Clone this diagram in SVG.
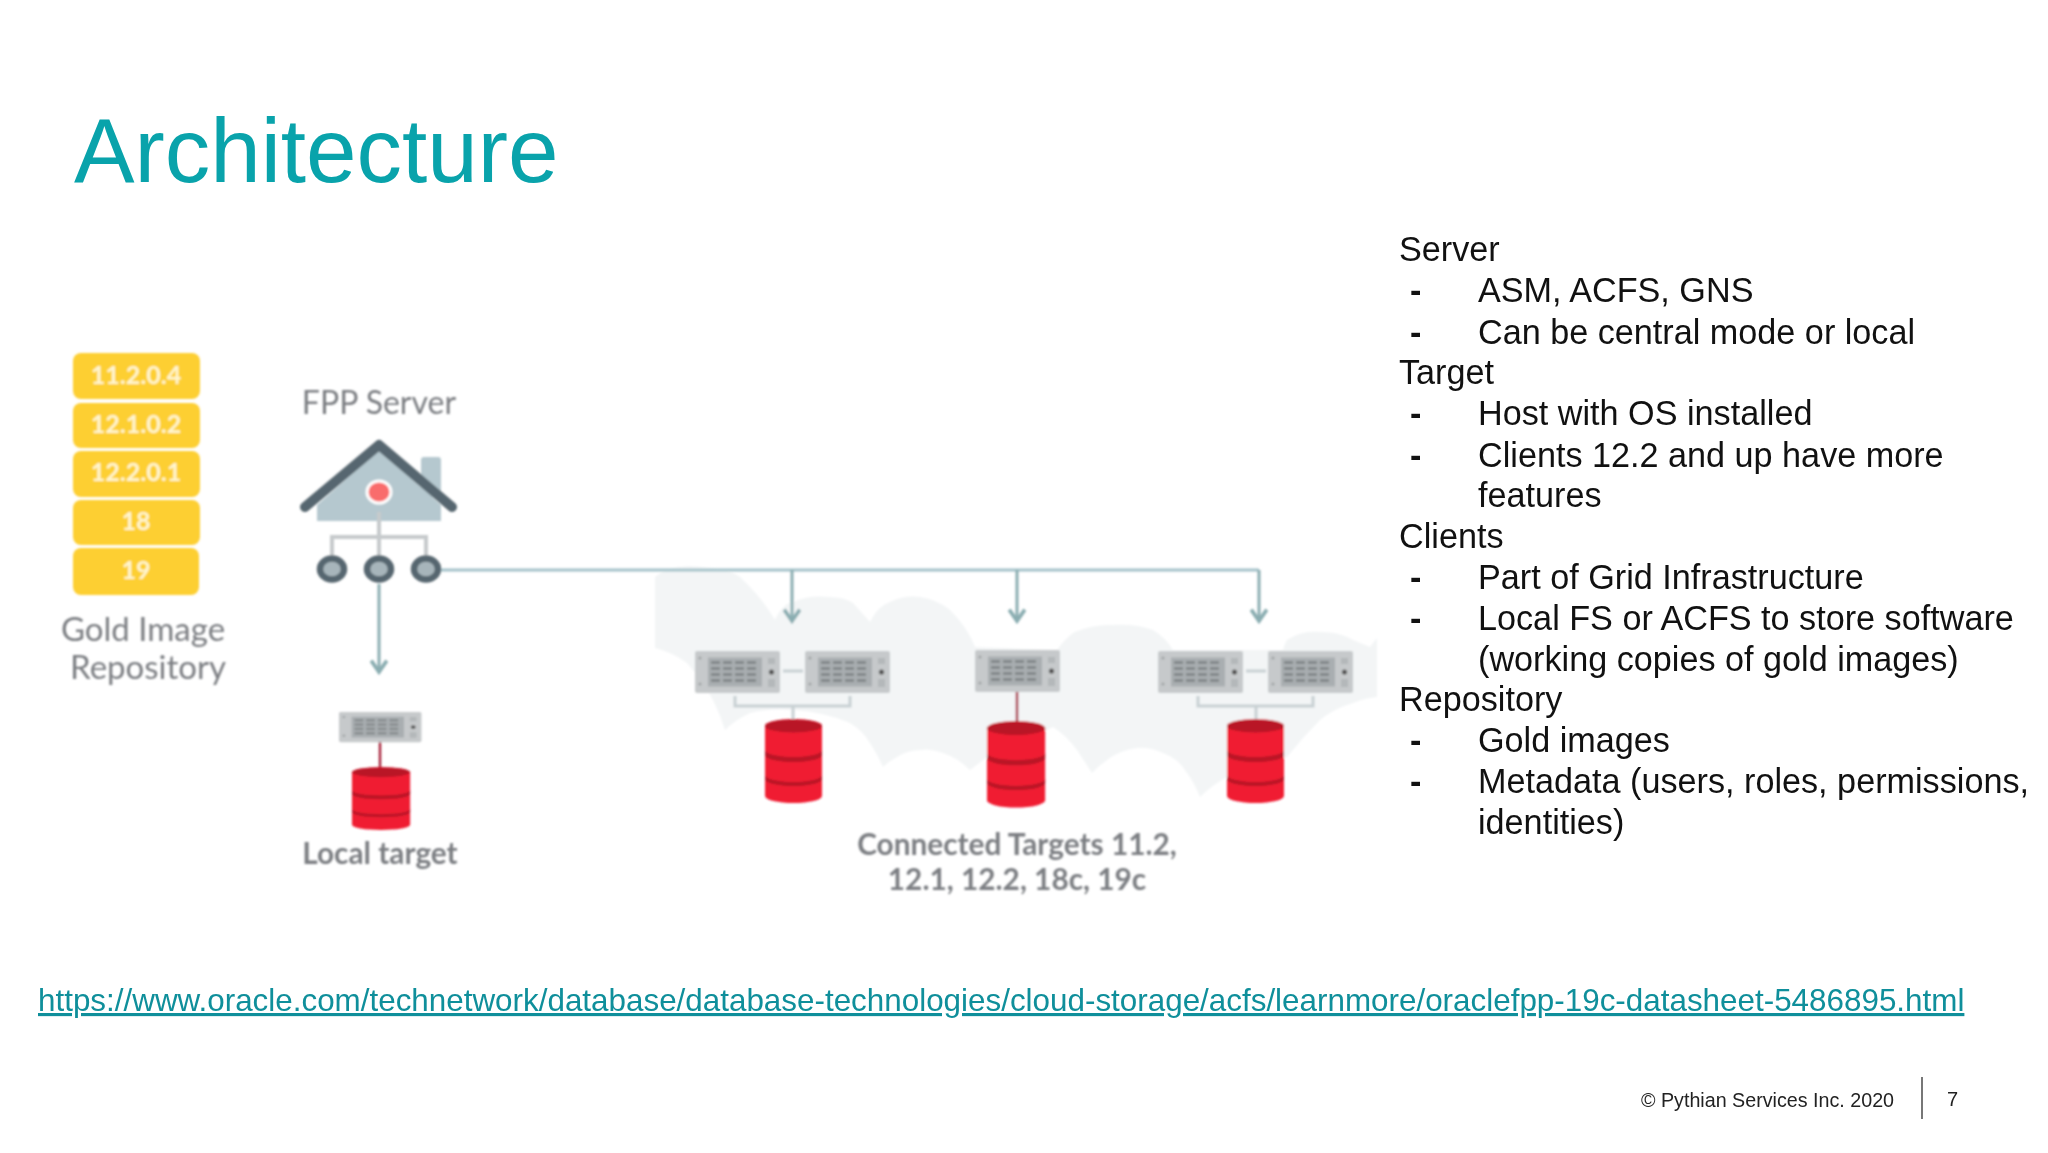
<svg xmlns="http://www.w3.org/2000/svg" xmlns:xlink="http://www.w3.org/1999/xlink" width="2048" height="1153" viewBox="0 0 2048 1153">
<style>
.s{font-family:"Liberation Sans",Arial,sans-serif;fill:#111;font-size:34.2px}
.d{font-family:"Liberation Sans",Arial,sans-serif;fill:#111;font-size:34.2px;font-weight:700}
.c{font-family:Lato,"Open Sans",sans-serif;fill:#7b7e82}
.g{fill:#fdcf33}
.gt{font-family:Lato,"Open Sans",sans-serif;font-size:25px;font-weight:700;fill:#fff6d0;text-anchor:middle}
.cn{fill:none;stroke:#8aadb1;stroke-width:3}
.h{fill:none;stroke:#a4c2c9;stroke-width:3}
.brk{fill:none;stroke:#c8d0d3;stroke-width:3}
.ring{fill:#a7b5bb;stroke:#56666f;stroke-width:6.5}
.srv{fill:#c6c9cb}
.cell{fill:#83888a}
.dbb{fill:#f01d33}
.dbt{fill:#b91628}
</style>
<defs>
<filter id="soft" x="-2%" y="-2%" width="104%" height="104%"><feGaussianBlur stdDeviation="0.8"/></filter>
<marker id="ah" markerWidth="18" markerHeight="18" refX="14" refY="8" orient="auto" markerUnits="userSpaceOnUse" viewBox="0 0 16 16"><path d="M3 1 L13 8 L3 15" fill="none" stroke="#8aadb1" stroke-width="3.4"/></marker>
<g id="server">
<rect class="srv" width="85" height="42" rx="2"/>
<rect x="13" y="6.5" width="54" height="29" fill="#a9aeb1"/>
<g class="cell">
<rect x="16" y="10" width="9" height="3"/><rect x="28" y="10" width="9" height="3"/><rect x="40" y="10" width="9" height="3"/><rect x="52" y="10" width="9" height="3"/>
<rect x="16" y="16" width="9" height="3"/><rect x="28" y="16" width="9" height="3"/><rect x="40" y="16" width="9" height="3"/><rect x="52" y="16" width="9" height="3"/>
<rect x="16" y="22" width="9" height="3"/><rect x="28" y="22" width="9" height="3"/><rect x="40" y="22" width="9" height="3"/><rect x="52" y="22" width="9" height="3"/>
<rect x="16" y="28" width="9" height="3"/><rect x="28" y="28" width="9" height="3"/><rect x="40" y="28" width="9" height="3"/><rect x="52" y="28" width="9" height="3"/>
</g>
<rect x="73" y="7" width="7" height="6" fill="#b4b8ba"/>
<rect x="73" y="28" width="7" height="8" fill="#b4b8ba"/>
<circle cx="76.5" cy="21" r="2.6" fill="#555"/>
<circle cx="5" cy="7" r="1.6" fill="#a0a4a6"/>
<circle cx="5" cy="33" r="1.6" fill="#a0a4a6"/>
</g>
<g id="db">
<path class="dbb" d="M0 7 A28.5 7 0 0 1 57 7 V77 A28.5 7 0 0 1 0 77 Z"/>
<ellipse class="dbt" cx="28.5" cy="7" rx="28.5" ry="6.5"/>
<path class="dbt" d="M0 31 A28.5 7 0 0 0 57 31 V36 A28.5 7 0 0 1 0 36 Z"/>
<path class="dbt" d="M0 56 A28.5 7 0 0 0 57 56 V60 A28.5 7 0 0 1 0 60 Z"/>
</g>
</defs>
<rect width="2048" height="1153" fill="#fff"/>
<text x="74" y="182" font-family="'Liberation Sans',Arial,sans-serif" font-size="90.8" fill="#09a3ab">Architecture</text>
<g filter="url(#soft)">
<path id="cloud" fill="#f3f5f6" d="M655 577 Q672 562 710 568 Q735 570 743 580 Q762 598 775 620 Q782 604 793 602 Q810 595 827 597 Q845 597 853 603 L870 622 Q878 606 890 602 Q905 595 920 597 Q938 600 950 610 Q968 628 975 647 L1057 650 Q1064 640 1073 633 Q1092 624 1113 625 Q1137 624 1153 630 Q1166 638 1173 650 L1283 650 Q1284 645 1287 640 Q1302 630 1320 632 Q1340 632 1353 640 L1370 647 L1377 638 L1377 697 Q1365 698 1353 703 Q1335 708 1320 720 Q1302 738 1287 757 L1227 777 Q1212 785 1200 797 Q1195 784 1187 773 Q1178 758 1163 753 Q1150 747 1137 748 Q1120 750 1107 760 Q1098 766 1092 773 Q1085 762 1077 750 Q1066 735 1053 727 L987 757 L970 770 Q958 758 943 753 Q930 748 920 750 Q908 750 897 757 Q889 761 883 767 Q878 755 870 743 Q862 730 850 723 Q825 712 793 710 Q768 708 750 713 Q735 720 725 730 Q720 714 713 700 Q702 680 687 663 Q672 652 655 648 Z"/>
<g id="connectors">
<path class="cn" d="M379 584 V673" marker-end="url(#ah)"/>
<path class="h" d="M441 570 H1259"/>
<path class="cn" d="M792 570 V622" marker-end="url(#ah)"/>
<path class="cn" d="M1017 570 V622" marker-end="url(#ah)"/>
<path class="cn" d="M1259 570 V622" marker-end="url(#ah)"/>
<path class="brk" d="M783 671 H803 M735 696 V706 H850 V696 M793 706 V726"/>
<path class="brk" d="M1246 671 H1266 M1198 696 V706 H1313 V696 M1256 706 V726"/>
<path d="M1017 692 V725 M380 742 V770" fill="none" stroke="#a8253c" stroke-width="2.5"/>
</g>
<g id="gold-repository">
<rect class="g" x="73" y="353" width="127" height="46" rx="8"/><text class="gt" x="136" y="384">11.2.0.4</text>
<rect class="g" x="73" y="403" width="127" height="45" rx="8"/><text class="gt" x="136" y="433">12.1.0.2</text>
<rect class="g" x="73" y="451" width="127" height="46" rx="8"/><text class="gt" x="136" y="481">12.2.0.1</text>
<rect class="g" x="73" y="500" width="127" height="45" rx="8"/><text class="gt" x="136" y="530">18</text>
<rect class="g" x="73" y="548" width="126" height="47" rx="8"/><text class="gt" x="136" y="579">19</text>
<text class="c" font-size="33" x="143" y="641" text-anchor="middle">Gold Image</text>
<text class="c" font-size="33" x="148" y="679" text-anchor="middle">Repository</text>
</g>
<g id="fpp-server">
<text class="c" font-size="32" x="379" y="414" text-anchor="middle">FPP Server</text>
<rect x="421" y="457" width="20" height="40" rx="3" fill="#b5c8cf"/>
<path d="M317 505 L379 450 L441 505 V521 H317 Z" fill="#b5c8cf"/>
<path d="M305 507 L379 445 L452 507" fill="none" stroke="#56666f" stroke-width="10" stroke-linecap="round" stroke-linejoin="round"/>
<ellipse cx="379" cy="492" rx="12" ry="11" fill="#f96c6c" stroke="#fff" stroke-width="3"/>
<path d="M379 512 V556 M332 556 V537 H426 V556" fill="none" stroke="#c6cacc" stroke-width="4"/>
<ellipse class="ring" cx="332" cy="569" rx="12" ry="10.5"/>
<ellipse class="ring" cx="379" cy="569" rx="12" ry="10.5"/>
<ellipse class="ring" cx="426" cy="569" rx="12" ry="10.5"/>
</g>
<g id="local-target">
<use xlink:href="#server" href="#server" transform="translate(339 712) scale(.97 .72)"/>
<use xlink:href="#db" href="#db" transform="translate(352 767) scale(1.02 .75)"/>
<text class="c" font-size="29.8" font-weight="700" x="380" y="864" text-anchor="middle">Local target</text>
</g>
<g id="target-a">
<use xlink:href="#server" href="#server" transform="translate(695 651)"/>
<use xlink:href="#server" href="#server" transform="translate(805 651)"/>
<use xlink:href="#db" href="#db" transform="translate(765 719)"/>
</g>
<g id="target-b">
<use xlink:href="#server" href="#server" transform="translate(975 650)"/>
<use xlink:href="#db" href="#db" transform="translate(987 721) scale(1.02 1.03)"/>
</g>
<g id="target-c">
<use xlink:href="#server" href="#server" transform="translate(1158 651)"/>
<use xlink:href="#server" href="#server" transform="translate(1268 651)"/>
<use xlink:href="#db" href="#db" transform="translate(1227 719)"/>
</g>
<g id="connected-label">
<text class="c" font-size="29.8" font-weight="700" x="1017" y="855" text-anchor="middle">Connected Targets 11.2,</text>
<text class="c" font-size="29.8" font-weight="700" x="1017" y="890" text-anchor="middle">12.1, 12.2, 18c, 19c</text>
</g>
</g>
<g id="notes">
<text class="s" x="1399" y="261">Server</text>
<text class="d" x="1410" y="302">-</text><text class="s" x="1478" y="302">ASM, ACFS, GNS</text>
<text class="d" x="1410" y="344">-</text><text class="s" x="1478" y="344">Can be central mode or local</text>
<text class="s" x="1399" y="384">Target</text>
<text class="d" x="1410" y="425">-</text><text class="s" x="1478" y="425">Host with OS installed</text>
<text class="d" x="1410" y="467">-</text><text class="s" x="1478" y="467">Clients 12.2 and up have more</text>
<text class="s" x="1478" y="507">features</text>
<text class="s" x="1399" y="548">Clients</text>
<text class="d" x="1410" y="589">-</text><text class="s" x="1478" y="589">Part of Grid Infrastructure</text>
<text class="d" x="1410" y="630">-</text><text class="s" x="1478" y="630">Local FS or ACFS to store software</text>
<text class="s" x="1478" y="671">(working copies of gold images)</text>
<text class="s" x="1399" y="711">Repository</text>
<text class="d" x="1410" y="752">-</text><text class="s" x="1478" y="752">Gold images</text>
<text class="d" x="1410" y="793">-</text><text class="s" x="1478" y="793">Metadata (users, roles, permissions,</text>
<text class="s" x="1478" y="834">identities)</text>
</g>
<text x="38" y="1011" font-family="'Liberation Sans',Arial,sans-serif" font-size="31.4" fill="#0f8f9b" text-decoration="underline">https://www.oracle.com/technetwork/database/database-technologies/cloud-storage/acfs/learnmore/oraclefpp-19c-datasheet-5486895.html</text>
<text x="1641" y="1107" font-family="'Liberation Sans',Arial,sans-serif" font-size="19.7" fill="#222">© Pythian Services Inc. 2020</text>
<path d="M1922 1077 V1119" stroke="#777" stroke-width="2"/>
<text x="1947" y="1106" font-family="'Liberation Sans',Arial,sans-serif" font-size="20" fill="#222">7</text>
</svg>
